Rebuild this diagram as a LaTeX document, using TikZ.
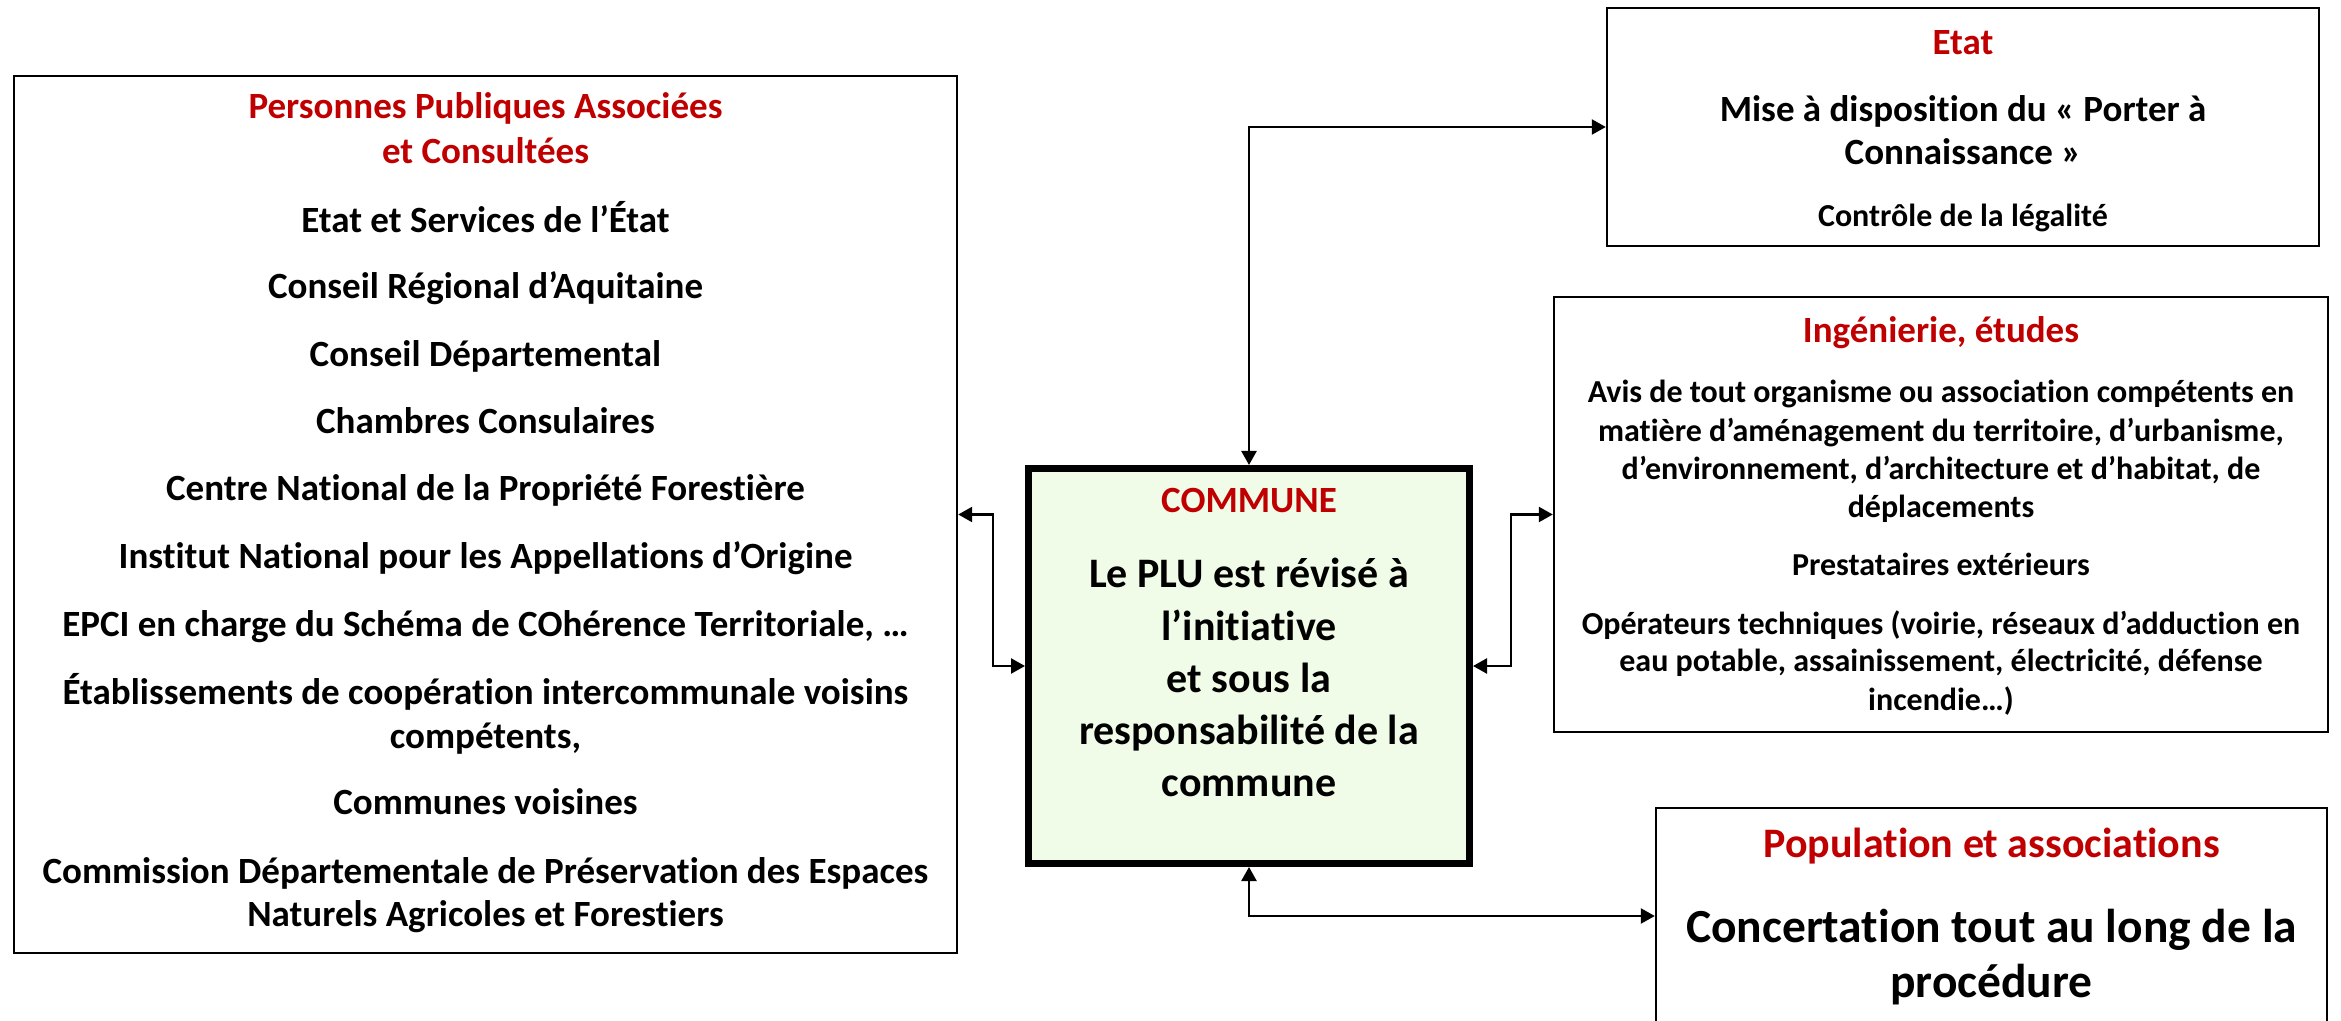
\documentclass[tikz,border=0pt]{standalone}
\usepackage{fontspec}
\setmainfont{Carlito}[Ligatures=NoCommon]
\usetikzlibrary{arrows.meta,fit}
\definecolor{tred}{HTML}{C00000}
\definecolor{cgreen}{HTML}{F0FCE8}
\begin{document}
\begin{tikzpicture}[x=0.5pt,y=-0.5pt,
  box/.style={draw=black, line width=1.2pt, inner sep=0pt},
  lbl/.style={anchor=base, inner sep=0pt, font=\bfseries\fontsize{18.5pt}{22pt}\selectfont},
  red/.style={text=tred},
  sizeB/.style={font=\bfseries\fontsize{21pt}{25pt}\selectfont},
  sizeC/.style={font=\bfseries\fontsize{16pt}{19pt}\selectfont},
  sizeD/.style={font=\bfseries\fontsize{23.75pt}{28pt}\selectfont},
  conn/.style={line width=1.2pt, {Triangle[length=7pt,width=7.5pt]}-{Triangle[length=7pt,width=7.5pt]}}
]
\useasboundingbox[fill=white] (0,0) rectangle (2341,1021);

% boxes
\node[box, fit={(14,76)(957,953)}] (ppa) {};
\node[box, line width=3.5pt, fill=cgreen, fit={(1028.5,468.5)(1469.5,863.5)}] (commune) {};
\node[box, fit={(1607,8)(2319,246)}] (etat) {};
\node[box, fit={(1554,297)(2328,732)}] (ing) {};
\node[box, fit={(1656,808)(2327,1024)}] (pop) {};

% left box text
\node[lbl, red] (p1) at (485.5,119) {Personnes Publiques Associées};
\node[lbl, red] (p2) at (485.5,164) {et Consultées};
\node[lbl] (p3) at (485.5,233) {Etat et Services de l’État};
\node[lbl] (p4) at (485.5,299) {Conseil Régional d’Aquitaine};
\node[lbl] (p5) at (485.5,367) {Conseil Départemental};
\node[lbl] (p6) at (485.5,434) {Chambres Consulaires};
\node[lbl] (p7) at (485.5,501) {Centre National de la Propriété Forestière};
\node[lbl] (p8) at (485.5,568) {Institut National pour les Appellations d’Origine};
\node[lbl] (p9) at (485.5,636) {EPCI en charge du Schéma de COhérence Territoriale, …};
\node[lbl] (p10) at (485.5,704) {Établissements de coopération intercommunale voisins};
\node[lbl] (p11) at (485.5,748) {compétents,};
\node[lbl] (p12) at (485.5,814) {Communes voisines};
\node[lbl] (p13) at (485.5,883) {Commission Départementale de Préservation des Espaces};
\node[lbl] (p14) at (485.5,926) {Naturels Agricoles et Forestiers};

% commune text
\node[lbl, red] (c0) at (1249,513) {COMMUNE};
\node[lbl, sizeB] (c1) at (1249,588) {Le PLU est révisé à};
\node[lbl, sizeB] (c2) at (1249,640) {l’initiative};
\node[lbl, sizeB] (c3) at (1249,692) {et sous la};
\node[lbl, sizeB] (c4) at (1249,744) {responsabilité de la};
\node[lbl, sizeB] (c5) at (1249,796) {commune};

% etat text
\node[lbl, red] (e0) at (1963,55) {Etat};
\node[lbl] (e1) at (1963,122) {Mise à disposition du «~Porter à};
\node[lbl] (e2) at (1963,165) {Connaissance~»};
\node[lbl, sizeC] (e3) at (1963,227) {Contrôle de la légalité};

% ingenierie text
\node[lbl, red] (i0) at (1941,343) {Ingénierie, études};
\node[lbl, sizeC] (i1) at (1941,403) {Avis de tout organisme ou association compétents en};
\node[lbl, sizeC] (i2) at (1941,442) {matière d’aménagement du territoire, d’urbanisme,};
\node[lbl, sizeC] (i3) at (1941,480) {d’environnement, d’architecture et d’habitat, de};
\node[lbl, sizeC] (i4) at (1941,518) {déplacements};
\node[lbl, sizeC] (i5) at (1941,575) {Prestataires extérieurs};
\node[lbl, sizeC] (i6) at (1941,634) {Opérateurs techniques (voirie, réseaux d’adduction en};
\node[lbl, sizeC] (i7) at (1941,671) {eau potable, assainissement, électricité, défense};
\node[lbl, sizeC] (i8) at (1941,710) {incendie…)};

% population text
\node[lbl, red, sizeB] (o0) at (1991.5,857) {Population et associations};
\node[lbl, sizeD] (o1) at (1991.5,942) {Concertation tout au long de la};
\node[lbl, sizeD] (o2) at (1991.5,997) {procédure};

% connectors
\draw[conn] (commune.north) |- (etat.west);
\draw[conn] (commune.west) -- ++(-32,0) |- (ppa.east);
\draw[conn] (commune.east) -- ++(38,0) |- (ing.west);
\draw[conn] (commune.south) |- (pop.west);
\end{tikzpicture}
\end{document}
